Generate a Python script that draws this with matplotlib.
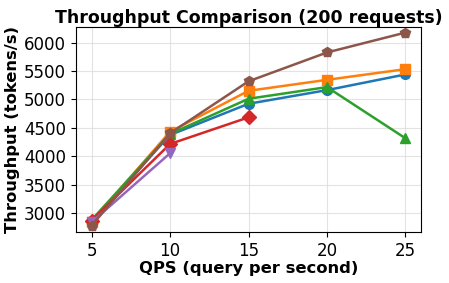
import matplotlib
matplotlib.use("Agg")
import matplotlib.pyplot as plt

qps = [5, 10, 15, 20, 25]
blue = [2860, 4374, 4923, 5163, 5439]
orange = [2850, 4432, 5151, 5344, 5532]
green = [2880, 4391, 5011, 5216, 4316]
red = [2870, 4216, 4684]
purple = [2840, 4053]
brown = [2780, 4404, 5318, 5825, 6175]

series = [
    (qps, blue, "o", "#1f77b4"),
    (qps, orange, "s", "#ff7f0e"),
    (qps, green, "^", "#2ca02c"),
    (qps[:3], red, "D", "#d62728"),
    (qps[:2], purple, "v", "#9467bd"),
    (qps, brown, "p", "#8c564b"),
]

fig = plt.figure(figsize=(4.49, 2.83), dpi=100)
ax = fig.add_axes([0.169, 0.18, 0.769, 0.725])
for x, y, m, c in series:
    ax.plot(x, y, marker=m, color=c, linewidth=1.8, markersize=7)

ax.set_xlim(4, 26)
ax.set_ylim(2667, 6275)
ax.set_xticks([5, 10, 15, 20, 25])
ax.set_yticks([3000, 3500, 4000, 4500, 5000, 5500, 6000])
ax.tick_params(labelsize=12)
ax.grid(True, color="#dddddd", alpha=0.8, linewidth=0.8)
ax.set_title("Throughput Comparison (200 requests)", fontsize=12.5, fontweight="bold", pad=3)
ax.set_xlabel("QPS (query per second)", fontsize=11.8, fontweight="bold", labelpad=1)
ax.set_ylabel("Throughput (tokens/s)", fontsize=11.8, fontweight="bold", labelpad=3)
fig.savefig("out.png", dpi=100)
